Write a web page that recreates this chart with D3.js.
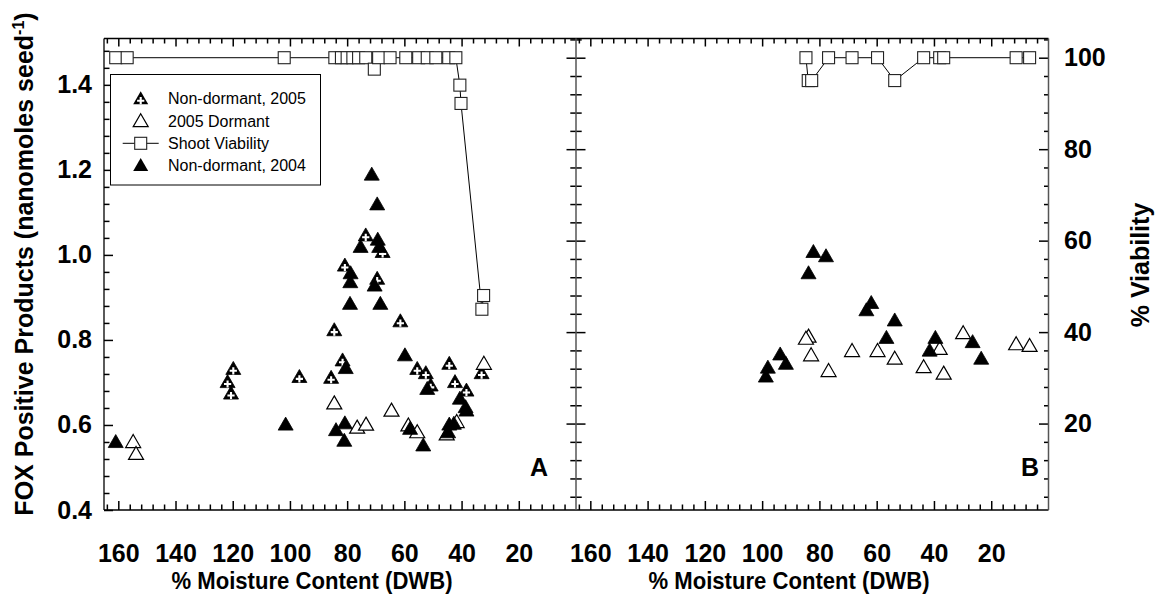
<!DOCTYPE html>
<html>
<head>
<meta charset="utf-8">
<script src="https://cdn.jsdelivr.net/npm/d3@7"></script>
<style>
  html, body { margin: 0; padding: 0; background: #ffffff; }
  svg { display: block; }
  text { font-family: "Liberation Sans", Arial, Helvetica, sans-serif; }
</style>
</head>
<body>
<svg id="chart" width="1158" height="597"></svg>
<script>
// ---- Panel A: FOX positive products vs. moisture content (% DWB) ----
const nonDormant2005A = [
  [119.8, 0.733], [121.8, 0.702], [120.6, 0.675], [96.7, 0.714], [84.5, 0.824],
  [85.6, 0.712], [81.6, 0.753], [73.5, 1.047], [67.6, 1.008], [80.8, 0.976],
  [69.5, 0.945], [61.4, 0.845], [55.5, 0.733], [52.5, 0.723], [50.8, 0.694],
  [44.3, 0.745], [42.3, 0.702], [38.3, 0.682], [33.0, 0.723]
];
const dormant2005A = [
  [154.8, 0.561], [153.8, 0.533], [84.5, 0.652], [76.5, 0.595], [73.4, 0.602],
  [64.5, 0.635], [58.6, 0.600], [55.5, 0.584], [41.7, 0.608], [45.2, 0.579],
  [32.2, 0.745]
];
const nonDormant2004A = [
  [160.9, 0.561], [101.5, 0.602], [83.9, 0.589], [80.8, 0.605], [81.0, 0.564],
  [80.5, 0.735], [79.0, 0.886], [78.9, 0.937], [78.8, 0.958], [75.3, 1.020],
  [71.4, 1.190], [69.5, 1.120], [69.3, 1.037], [68.8, 1.020], [70.4, 0.929],
  [68.4, 0.886], [59.8, 0.765], [58.0, 0.592], [53.4, 0.553], [52.0, 0.686],
  [40.6, 0.663], [38.6, 0.643], [38.3, 0.635], [44.3, 0.602], [42.7, 0.604],
  [44.7, 0.584]
];
const viabilityA = [
  [160.9, 100], [156.9, 100], [102.0, 100], [84.3, 100], [82.0, 100], [80.0, 100],
  [78.0, 100], [76.0, 100], [73.5, 100], [70.5, 97.5], [69.0, 100], [65.0, 100],
  [59.5, 100], [55.0, 100], [52.0, 100], [49.0, 100], [44.5, 100], [42.0, 100],
  [40.6, 94], [40.2, 90], [32.9, 45], [32.3, 48]
];

// ---- Panel B ----
const nonDormantB = [
  [82.1, 1.008], [77.7, 0.998], [83.8, 0.958], [61.9, 0.888], [63.6, 0.871],
  [53.7, 0.847], [56.6, 0.806], [39.5, 0.806], [41.5, 0.776], [26.5, 0.796],
  [23.5, 0.757], [93.7, 0.767], [91.7, 0.745], [98.0, 0.736], [98.7, 0.715]
];
const dormantB = [
  [83.8, 0.809], [84.7, 0.804], [82.9, 0.765], [76.8, 0.728], [68.6, 0.775],
  [59.7, 0.775], [53.7, 0.757], [43.6, 0.737], [36.6, 0.722], [38.0, 0.780],
  [29.8, 0.817], [11.3, 0.791], [6.6, 0.787]
];
const viabilityB = [
  [84.7, 100], [83.9, 95], [82.7, 95], [76.8, 100], [68.6, 100], [59.7, 100],
  [53.7, 95], [43.6, 100], [38.0, 100], [36.6, 100], [11.3, 100], [6.6, 100]
];

// ---- Axis ticks ----
const moistureTicks = [160, 140, 120, 100, 80, 60, 40, 20];
const foxTicks = [0.4, 0.6, 0.8, 1.0, 1.2, 1.4];
const viabilityTicks = [20, 40, 60, 80, 100];

const legendItems = ["Non-dormant, 2005", "2005 Dormant", "Shoot Viability", "Non-dormant, 2004"];

// ---- Layout ----
const plotTop = 38.5, plotBottom = 510;
const xA = d3.scaleLinear().domain([165, 0]).range([104, 576]);
const xB = d3.scaleLinear().domain([165, 0]).range([576, 1048.5]);
const yFox = d3.scaleLinear().domain([0.4, 1.509]).range([plotBottom, plotTop]);
const yVia = d3.scaleLinear().domain([1.1, 104.2]).range([plotBottom, plotTop]);

const minorMoisture = d3.range(4, 165, 4).filter(v => v % 20 !== 0);
const minorFox = d3.range(11, 38).map(i => i * 0.04).filter(v => Math.abs(v * 5 - Math.round(v * 5)) > 1e-6);
const minorVia = d3.range(4, 105, 4).filter(v => v % 20 !== 0);

const svg = d3.select("#chart");
const FONT = "\"Liberation Sans\", Arial, Helvetica, sans-serif";

function styleAxis(g, labelSize) {
  g.select(".domain").remove();
  g.attr("font-family", FONT).attr("font-size", labelSize || 25).attr("font-weight", "bold");
  g.selectAll(".tick line").attr("stroke", "#000").attr("stroke-width", 1.5);
  g.selectAll(".tick text").attr("fill", "#000");
}

function moistureAxes(x) {
  // bottom: labelled majors + minors, ticks pointing into the plot
  svg.append("g").attr("transform", `translate(0,${plotBottom})`)
    .call(d3.axisBottom(x).tickValues(moistureTicks).tickSizeInner(-9).tickSizeOuter(0)
      .tickPadding(34).tickFormat(d3.format("d")))
    .call(styleAxis);
  svg.append("g").attr("transform", `translate(0,${plotBottom})`)
    .call(d3.axisBottom(x).tickValues(minorMoisture).tickSizeInner(-5.5).tickSizeOuter(0).tickFormat(""))
    .call(styleAxis);
  // top mirror axis
  svg.append("g").attr("transform", `translate(0,${plotTop})`)
    .call(d3.axisTop(x).tickValues(moistureTicks).tickSizeInner(-8).tickSizeOuter(0).tickFormat(""))
    .call(styleAxis);
  svg.append("g").attr("transform", `translate(0,${plotTop})`)
    .call(d3.axisTop(x).tickValues(minorMoisture).tickSizeInner(-5).tickSizeOuter(0).tickFormat(""))
    .call(styleAxis);
}
moistureAxes(xA);
moistureAxes(xB);

// left FOX axis
svg.append("g").attr("transform", "translate(104,0)")
  .call(d3.axisLeft(yFox).tickValues(foxTicks).tickSizeInner(-9).tickSizeOuter(0)
    .tickPadding(12).tickFormat(d3.format(".1f")))
  .call(styleAxis);
svg.append("g").attr("transform", "translate(104,0)")
  .call(d3.axisLeft(yFox).tickValues(minorFox).tickSizeInner(-5.5).tickSizeOuter(0).tickFormat(""))
  .call(styleAxis);

// shared divider: viability ticks crossing the line
[[viabilityTicks, 9.5], [minorVia, 5.7]].forEach(([vals, len]) => {
  svg.append("g").attr("transform", "translate(576,0)")
    .call(d3.axisRight(yVia).tickValues(vals).tickSizeInner(len).tickSizeOuter(0).tickFormat(""))
    .call(styleAxis);
  svg.append("g").attr("transform", "translate(576,0)")
    .call(d3.axisLeft(yVia).tickValues(vals).tickSizeInner(len).tickSizeOuter(0).tickFormat(""))
    .call(styleAxis);
});

// right viability axis
svg.append("g").attr("transform", "translate(1048.5,0)")
  .call(d3.axisRight(yVia).tickValues(viabilityTicks).tickSizeInner(-9.5).tickSizeOuter(0)
    .tickPadding(15.5).tickFormat(d3.format("d")))
  .call(styleAxis);
svg.append("g").attr("transform", "translate(1048.5,0)")
  .call(d3.axisRight(yVia).tickValues(minorVia).tickSizeInner(-4.5).tickSizeOuter(0).tickFormat(""))
  .call(styleAxis);

// frame lines
const frame = svg.append("g").attr("fill", "none");
frame.append("line").attr("x1", 104).attr("x2", 1048.5).attr("y1", plotTop).attr("y2", plotTop)
  .attr("stroke", "#000").attr("stroke-width", 1.3);
frame.append("line").attr("x1", 104).attr("x2", 1048.5).attr("y1", plotBottom).attr("y2", plotBottom)
  .attr("stroke", "#000").attr("stroke-width", 1.3);
frame.append("line").attr("x1", 104).attr("x2", 104).attr("y1", plotTop).attr("y2", plotBottom)
  .attr("stroke", "#000").attr("stroke-width", 1.3);
frame.append("line").attr("x1", 576).attr("x2", 576).attr("y1", plotTop).attr("y2", plotBottom)
  .attr("stroke", "#555").attr("stroke-width", 1.5);
frame.append("line").attr("x1", 1048.5).attr("x2", 1048.5).attr("y1", plotTop).attr("y2", plotBottom)
  .attr("stroke", "#555").attr("stroke-width", 1.5);

// ---- marker shapes ----
const triPath = "M0,-7L7.5,6L-7.5,6Z";
const plusPath = "M-3.6,2.4H3.6M0,-1.2V6";

function drawFilled(g, data, x, y, withPlus) {
  const m = g.selectAll(null).data(data).enter().append("g")
    .attr("transform", d => `translate(${x(d[0])},${y(d[1])})`);
  m.append("path").attr("d", triPath).attr("fill", "#000").attr("stroke", "#000").attr("stroke-width", 0.8);
  if (withPlus) m.append("path").attr("d", plusPath).attr("stroke", "#fff").attr("stroke-width", 2.1).attr("fill", "none");
}
function drawOpen(g, data, x, y) {
  g.selectAll(null).data(data).enter().append("path")
    .attr("transform", d => `translate(${x(d[0])},${y(d[1])})`)
    .attr("d", triPath).attr("fill", "#fff").attr("stroke", "#000").attr("stroke-width", 1.2);
}
function drawViability(g, data, x) {
  g.append("path").datum(data)
    .attr("d", d3.line().x(d => x(d[0])).y(d => yVia(d[1])))
    .attr("fill", "none").attr("stroke", "#000").attr("stroke-width", 1);
  g.selectAll(null).data(data).enter().append("rect")
    .attr("x", d => x(d[0]) - 6).attr("y", d => yVia(d[1]) - 6)
    .attr("width", 12).attr("height", 12)
    .attr("fill", "#fff").attr("stroke", "#222").attr("stroke-width", 1.1);
}

const gA = svg.append("g");
drawFilled(gA, nonDormant2005A, xA, yFox, true);
drawOpen(gA, dormant2005A, xA, yFox);
drawViability(gA, viabilityA, xA);
drawFilled(gA, nonDormant2004A, xA, yFox, false);

const gB = svg.append("g");
drawOpen(gB, dormantB, xB, yFox);
drawFilled(gB, nonDormantB, xB, yFox, false);
drawViability(gB, viabilityB, xB);

// ---- legend ----
const lg = svg.append("g");
lg.append("rect").attr("x", 110.5).attr("y", 74.5).attr("width", 210).attr("height", 110.5)
  .attr("fill", "#fff").attr("stroke", "#000").attr("stroke-width", 1);
const rowY = [98.3, 120.7, 143.3, 165];
const symX = 140.7;
legendItems.forEach((label, i) => {
  const cy = rowY[i];
  if (i === 0) {
    const s = lg.append("g").attr("transform", `translate(${symX},${cy})`);
    s.append("path").attr("d", triPath).attr("fill", "#000");
    s.append("path").attr("d", plusPath).attr("stroke", "#fff").attr("stroke-width", 2.1);
  } else if (i === 1) {
    lg.append("path").attr("transform", `translate(${symX},${cy})`).attr("d", triPath)
      .attr("fill", "#fff").attr("stroke", "#000").attr("stroke-width", 1.2);
  } else if (i === 2) {
    lg.append("line").attr("x1", symX - 18).attr("x2", symX + 18).attr("y1", cy).attr("y2", cy)
      .attr("stroke", "#000").attr("stroke-width", 1);
    lg.append("rect").attr("x", symX - 6).attr("y", cy - 6).attr("width", 12).attr("height", 12)
      .attr("fill", "#fff").attr("stroke", "#222").attr("stroke-width", 1.1);
  } else {
    lg.append("path").attr("transform", `translate(${symX},${cy})`).attr("d", triPath).attr("fill", "#000");
  }
  lg.append("text").attr("x", 168).attr("y", cy + 6).attr("font-size", 16).attr("fill", "#000")
    .text(label);
});

// ---- titles & panel letters ----
[312, 789].forEach(cx => {
  svg.append("text").attr("x", cx).attr("y", 589).attr("text-anchor", "middle")
    .attr("font-size", 24.5).attr("font-weight", "bold")
    .attr("textLength", 281).attr("lengthAdjust", "spacingAndGlyphs")
    .text("% Moisture Content (DWB)");
});

const yTitle = svg.append("text").attr("transform", "translate(33,264) rotate(-90)")
  .attr("text-anchor", "middle").attr("font-size", 25).attr("font-weight", "bold");
yTitle.append("tspan").text("FOX Positive Products (nanomoles seed");
yTitle.append("tspan").attr("font-size", 16).attr("dy", -9).text("-1");
yTitle.append("tspan").attr("dy", 9).text(")");

svg.append("text").attr("transform", "translate(1149,265) rotate(-90)")
  .attr("text-anchor", "middle").attr("font-size", 25).attr("font-weight", "bold").text("% Viability");

svg.append("text").attr("x", 530).attr("y", 476).attr("font-size", 25).attr("font-weight", "bold").text("A");
svg.append("text").attr("x", 1021).attr("y", 476).attr("font-size", 25).attr("font-weight", "bold").text("B");
</script>
</body>
</html>
